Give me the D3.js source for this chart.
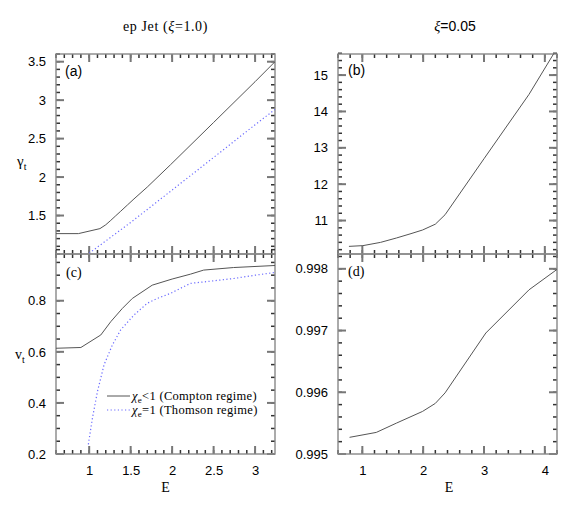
<!DOCTYPE html>
<html>
<head>
<meta charset="utf-8">
<script src="https://cdn.jsdelivr.net/npm/d3@7"></script>
<style>
  body { margin: 0; background: #fff; }
  text { fill: #000; }
</style>
</head>
<body>
<div id="chart"></div>
<script>
// panel (a): gamma_t vs E, xi = 1.0
var aComptonE = [0.6, 0.87, 1.13, 1.2, 1.26, 1.32, 1.38, 1.46, 1.54, 1.7, 1.98, 2.5, 3.0, 3.24];
var aComptonG = [1.265, 1.265, 1.33, 1.38, 1.437, 1.497, 1.556, 1.636, 1.716, 1.87, 2.16, 2.71, 3.24, 3.5];
var aThomsonE = [1.0, 1.5, 1.98, 2.5, 3.0, 3.24];
var aThomsonG = [1.01, 1.41, 1.815, 2.255, 2.68, 2.88];

// panel (c): v_t vs E, xi = 1.0
var cComptonE = [0.6, 0.9, 1.14, 1.26, 1.4, 1.52, 1.76, 2.0, 2.22, 2.38, 2.74, 3.24];
var cComptonV = [0.614, 0.617, 0.666, 0.718, 0.77, 0.809, 0.861, 0.885, 0.904, 0.92, 0.93, 0.938];
var cThomsonE = [0.99, 1.04, 1.1, 1.18, 1.28, 1.38, 1.54, 1.7, 1.82, 1.98, 2.22, 2.5, 2.74, 3.0, 3.24];
var cThomsonV = [0.238, 0.342, 0.445, 0.55, 0.627, 0.686, 0.744, 0.79, 0.809, 0.829, 0.868, 0.878, 0.887, 0.9, 0.911];

// panel (b): gamma_t vs E, xi = 0.05
var bE = [0.78, 1.01, 1.3, 1.56, 1.8, 1.99, 2.2, 2.36, 3.0, 3.74, 4.15];
var bG = [10.29, 10.31, 10.4, 10.52, 10.64, 10.74, 10.9, 11.16, 12.7, 14.47, 15.6];

// panel (d): v_t vs E, xi = 0.05
var dE = [0.79, 1.23, 1.56, 1.99, 2.2, 2.36, 3.03, 3.74, 4.2];
var dV = [0.99527, 0.99535, 0.9955, 0.99569, 0.99582, 0.99599, 0.99696, 0.99766, 0.99799];

// tick labels
var leftXTicks = [1, 1.5, 2, 2.5, 3];
var rightXTicks = [1, 2, 3, 4];
var aYTicks = [1.5, 2, 2.5, 3, 3.5];
var cYTicks = [0.2, 0.4, 0.6, 0.8];
var bYTicks = [11, 12, 13, 14, 15];
var dYTicks = [0.995, 0.996, 0.997, 0.998];

var W = 569, H = 510;
var svg = d3.select("#chart").append("svg")
    .attr("width", W)
    .attr("height", H);

var frameColor = "#888";
var sans = "'Liberation Sans', Arial, sans-serif";
var serif = "'Liberation Serif', 'Times New Roman', serif";

function range(a, b, step) {
  var out = [];
  var n = Math.round((b - a) / step);
  for (var i = 0; i <= n; i++) out.push(+(a + i * step).toFixed(6));
  return out;
}

function zip(xs, ys) {
  return xs.map(function(x, i) { return {x: x, y: ys[i]}; });
}

// draws one framed panel with ticks on all four sides
function drawPanel(p) {
  var g = svg.append("g").attr("transform", "translate(" + p.left + "," + p.top + ")");
  var w = p.width, h = p.height;
  var x = d3.scaleLinear().domain(p.xDomain).range([0, w]);
  var y = d3.scaleLinear().domain(p.yDomain).range([h, 0]);

  var xMinor = range(p.xMinorStart, p.xDomain[1], p.xMinorStep).filter(function(v){ return v >= p.xDomain[0]; });
  var yMinor = range(p.yMinorStart, p.yDomain[1], p.yMinorStep).filter(function(v){ return v >= p.yDomain[0]; });

  // tick marks, pointing inward on all four sides (k = 1 for major)
  var ticks = [];
  xMinor.forEach(function(v) { ticks.push({x1: x(v), y1: h, x2: x(v), y2: h - 4, k: 0}, {x1: x(v), y1: 0, x2: x(v), y2: 4, k: 0}); });
  p.xMajor.forEach(function(v) { ticks.push({x1: x(v), y1: h, x2: x(v), y2: h - 8, k: 1}, {x1: x(v), y1: 0, x2: x(v), y2: 8, k: 1}); });
  yMinor.forEach(function(v) { ticks.push({x1: 0, y1: y(v), x2: 4, y2: y(v), k: 0}, {x1: w, y1: y(v), x2: w - 4, y2: y(v), k: 0}); });
  p.yMajor.forEach(function(v) { ticks.push({x1: 0, y1: y(v), x2: 8, y2: y(v), k: 1}, {x1: w, y1: y(v), x2: w - 8, y2: y(v), k: 1}); });

  g.selectAll("line.tk")
    .data(ticks)
    .enter()
    .append("line")
      .attr("class", "tk")
      .attr("x1", function(d) { return d.x1; })
      .attr("y1", function(d) { return d.y1; })
      .attr("x2", function(d) { return d.x2; })
      .attr("y2", function(d) { return d.y2; })
      .attr("stroke", function(d) { return d.k ? "#777" : "#333"; })
      .attr("stroke-width", function(d) { return d.k ? 2 : 1.5; });

  // tick labels through d3 axes
  if (p.xLabels) {
    var bx = g.append("g").attr("transform", "translate(0," + h + ")")
      .call(d3.axisBottom(x).tickValues(p.xMajor).tickSize(0).tickPadding(12).tickFormat(d3.format("~g")));
    bx.select(".domain").remove();
    bx.selectAll("text").attr("font-family", sans).attr("font-size", 13).attr("fill", "#000");
  }
  var ly = g.append("g")
    .call(d3.axisLeft(y).tickValues(p.yMajor).tickSize(0).tickPadding(10).tickFormat(d3.format("~g")));
  ly.select(".domain").remove();
  ly.selectAll("text").attr("font-family", sans).attr("font-size", 13).attr("fill", "#000");

  g.append("rect")
    .attr("width", w).attr("height", h)
    .attr("fill", "none").attr("stroke", frameColor).attr("stroke-width", 1.4);

  var clipId = "clip-" + p.name;
  g.append("clipPath").attr("id", clipId)
    .append("rect").attr("width", w).attr("height", h);

  var line = d3.line()
    .x(function(d) { return x(d.x); })
    .y(function(d) { return y(d.y); });

  p.series.forEach(function(s) {
    g.append("path")
      .datum(s.data)
      .attr("clip-path", "url(#" + clipId + ")")
      .attr("fill", "none")
      .attr("stroke", s.color)
      .attr("stroke-width", s.width || 1)
      .attr("stroke-dasharray", s.dash || null)
      .attr("d", line);
  });

  g.append("text")
    .attr("x", p.tagX).attr("y", p.tagY)
    .attr("font-family", p.tagFont)
    .attr("font-size", 14)
    .text(p.tag);

  return g;
}

var solid = "#555";
var blue = "#6a6aff";

var L = {left: 56, width: 219}, R = {left: 338, width: 219};
var T = {top: 54, height: 200}, B = {top: 254, height: 200};

drawPanel({
  name: "a", tag: "(a)", tagFont: sans, tagX: 9, tagY: 22,
  left: L.left, width: L.width, top: T.top, height: T.height,
  xDomain: [0.6, 3.24], yDomain: [1.0, 3.6],
  xMajor: leftXTicks, xMinorStart: 0.6, xMinorStep: 0.1,
  yMajor: aYTicks, yMinorStart: 1.0, yMinorStep: 0.1,
  xLabels: false,
  series: [
    {data: zip(aComptonE, aComptonG), color: solid},
    {data: zip(aThomsonE, aThomsonG), color: blue, dash: "1.2,2.4", width: 1.2}
  ]
});

drawPanel({
  name: "c", tag: "(c)", tagFont: serif, tagX: 10, tagY: 23,
  left: L.left, width: L.width, top: B.top, height: B.height,
  xDomain: [0.6, 3.24], yDomain: [0.2, 0.983],
  xMajor: leftXTicks, xMinorStart: 0.6, xMinorStep: 0.1,
  yMajor: cYTicks, yMinorStart: 0.2, yMinorStep: 0.05,
  xLabels: true,
  series: [
    {data: zip(cComptonE, cComptonV), color: solid},
    {data: zip(cThomsonE, cThomsonV), color: blue, dash: "1.2,2.4", width: 1.2}
  ]
});

drawPanel({
  name: "b", tag: "(b)", tagFont: sans, tagX: 10, tagY: 21,
  left: R.left, width: R.width, top: T.top, height: T.height,
  xDomain: [0.6, 4.2], yDomain: [10.08, 15.58],
  xMajor: rightXTicks, xMinorStart: 0.6, xMinorStep: 0.2,
  yMajor: bYTicks, yMinorStart: 10.2, yMinorStep: 0.2,
  xLabels: false,
  series: [
    {data: zip(bE, bG), color: solid}
  ]
});

drawPanel({
  name: "d", tag: "(d)", tagFont: serif, tagX: 10, tagY: 22,
  left: R.left, width: R.width, top: B.top, height: B.height,
  xDomain: [0.6, 4.2], yDomain: [0.995, 0.99824],
  xMajor: rightXTicks, xMinorStart: 0.6, xMinorStep: 0.2,
  yMajor: dYTicks, yMinorStart: 0.995, yMinorStep: 0.0002,
  xLabels: true,
  series: [
    {data: zip(dE, dV), color: solid}
  ]
});

// titles
svg.append("text")
  .attr("x", 165.5).attr("y", 31)
  .attr("text-anchor", "middle")
  .attr("font-family", serif).attr("font-size", 14)
  .attr("letter-spacing", 0.6)
  .html("ep Jet (<tspan font-style='italic'>ξ</tspan>=1.0)");

svg.append("text")
  .attr("x", 455).attr("y", 31)
  .attr("text-anchor", "middle")
  .attr("font-family", sans).attr("font-size", 14)
  .html("<tspan font-family='Liberation Serif' font-style='italic'>ξ</tspan>=0.05");

// axis titles
svg.append("text")
  .attr("x", 17).attr("y", 166)
  .attr("font-family", serif).attr("font-size", 15)
  .html("γ<tspan font-size='10' dy='4'>t</tspan>");

svg.append("text")
  .attr("x", 15).attr("y", 359)
  .attr("font-family", serif).attr("font-size", 14)
  .html("v<tspan font-size='10' dy='4'>t</tspan>");

[165.5, 449].forEach(function(cx) {
  svg.append("text")
    .attr("x", cx).attr("y", 492)
    .attr("text-anchor", "middle")
    .attr("font-family", serif).attr("font-size", 14)
    .text("E");
});

// legend in panel (c)
var legend = svg.append("g").attr("transform", "translate(107,396)");
var legendItems = [
  {sub: "e", rest: "<1 (Compton regime)", color: solid, dash: null},
  {sub: "e", rest: "=1 (Thomson regime)", color: blue, dash: "1.2,2.4"}
];
legendItems.forEach(function(d, i) {
  var gy = i * 14;
  legend.append("line")
    .attr("x1", 0).attr("x2", 23).attr("y1", gy).attr("y2", gy)
    .attr("stroke", d.color).attr("stroke-width", d.dash ? 1.2 : 1)
    .attr("stroke-dasharray", d.dash);
  var t = legend.append("text")
    .attr("x", 25).attr("y", gy + 4)
    .attr("font-family", serif).attr("font-size", 12.5)
    .attr("letter-spacing", 0.3);
  t.append("tspan").attr("font-style", "italic").text("χ");
  t.append("tspan").attr("font-size", 9).attr("dy", 3).text(d.sub);
  t.append("tspan").attr("dy", -3).text(d.rest);
});
</script>
</body>
</html>
